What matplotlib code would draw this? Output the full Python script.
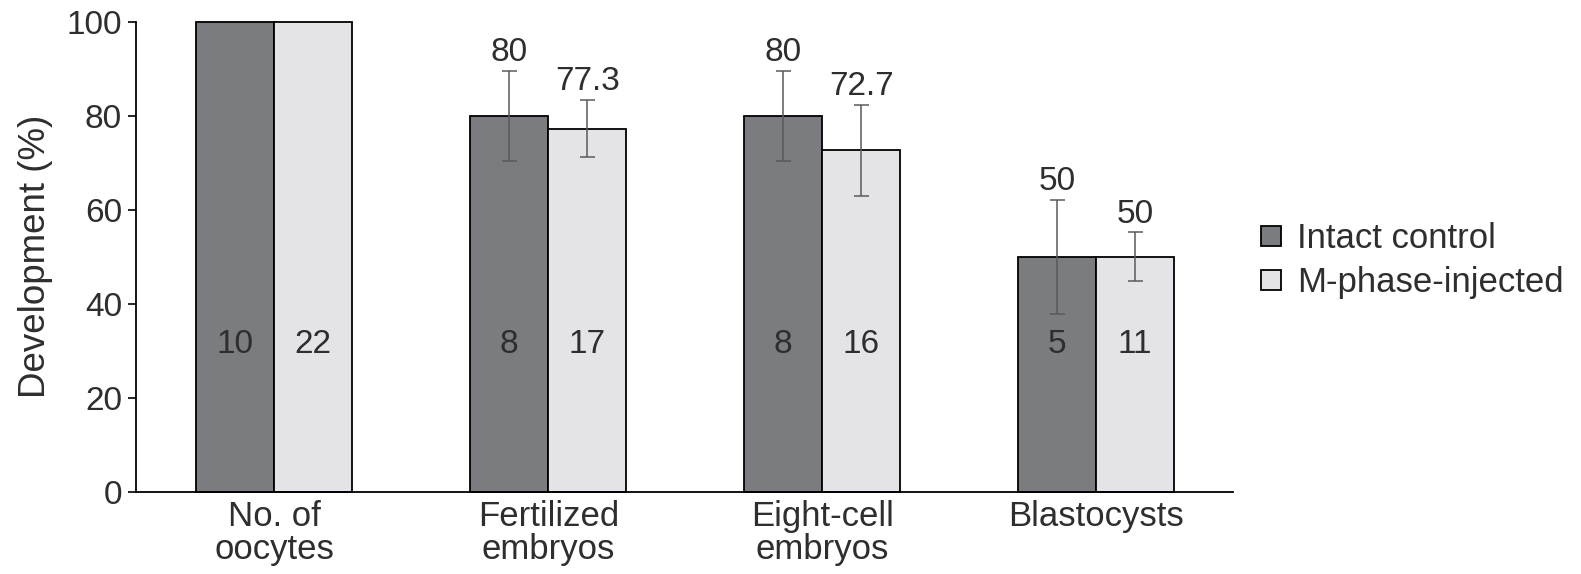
import numpy as np
import matplotlib
matplotlib.use('Agg')
import matplotlib.pyplot as plt

plt.rcParams['font.family'] = ['Liberation Sans', 'DejaVu Sans']

categories = ['No. of\noocytes', 'Fertilized\nembryos', 'Eight-cell\nembryos', 'Blastocysts']
control = [100, 80, 80, 50]
injected = [100, 77.3, 72.7, 50]
control_err = [0, 9.6, 9.6, 12.2]
injected_err = [0, 6.1, 9.7, 5.2]
control_n = [10, 8, 8, 5]
injected_n = [22, 17, 16, 11]
control_lbl = ['', '80', '80', '50']
injected_lbl = ['', '77.3', '72.7', '50']

dark = '#7b7c7f'
light = '#e4e4e8'
txt = '#2e2e30'
fs_num = 24   # numbers
fs_word = 25  # words

fig = plt.figure(figsize=(15.81, 5.74), dpi=100)
ax = fig.add_axes([0.086, 0.143, 0.694, 0.819])

x = np.arange(len(categories))
w = 0.285
b1 = ax.bar(x - w/2, control, w, color=dark, edgecolor='black', linewidth=1.3,
            label='Intact control', clip_on=False, zorder=2)
b2 = ax.bar(x + w/2, injected, w, color=light, edgecolor='black', linewidth=1.3,
            label='M-phase-injected', clip_on=False, zorder=2)

for xs, vals, errs, lbls, ns in [(x - w/2, control, control_err, control_lbl, control_n),
                                  (x + w/2, injected, injected_err, injected_lbl, injected_n)]:
    for xi, v, e, l, n in zip(xs, vals, errs, lbls, ns):
        if e > 0:
            ax.errorbar(xi, v, yerr=e, fmt='none', ecolor='#5a5a5c', elinewidth=1.1,
                        capsize=5.4, capthick=1.1, zorder=3)
        if l:
            ax.annotate(l, (xi, v + e), xytext=(0, 2), textcoords='offset points',
                        ha='center', va='bottom', fontsize=fs_num, color=txt)
        ax.text(xi, 31.4, str(n), ha='center', va='center', fontsize=fs_num, color=txt, zorder=4)

ax.set_xlim(-0.505, 3.5)
ax.set_ylim(0, 100)
ax.set_yticks([0, 20, 40, 60, 80, 100])
ax.set_xticks(x)
ax.set_xticklabels(categories, fontsize=fs_word, color=txt, linespacing=1.0)
ax.tick_params(axis='x', length=0, pad=6)
ax.tick_params(axis='y', length=6, width=1.2, labelsize=fs_num, labelcolor=txt, pad=4)
for s in ['top', 'right']:
    ax.spines[s].set_visible(False)
for s in ['left', 'bottom']:
    ax.spines[s].set_linewidth(1.3)
ax.set_ylabel('Development (%)', fontsize=26.5, color=txt, labelpad=10)

fig.legend(handles=[b1, b2], loc='center left', bbox_to_anchor=(0.789, 0.546),
           frameon=False, fontsize=fs_word, handlelength=0.58, handleheight=0.52,
           handletextpad=0.45, labelspacing=0.32, labelcolor=txt, borderaxespad=0)

fig.savefig('out.png', dpi=100)
